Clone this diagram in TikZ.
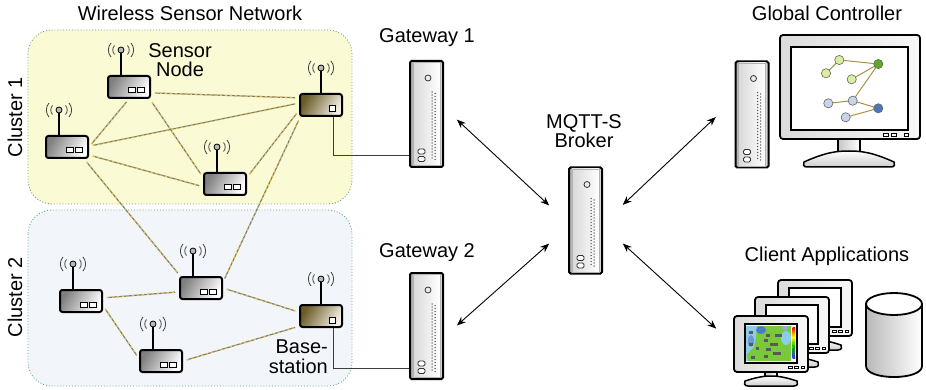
\documentclass[tikz,border=0pt]{standalone}
\usepackage{fontspec}
\setmainfont{Liberation Sans}
\usetikzlibrary{arrows.meta,calc,shapes.geometric}

\definecolor{clusterA}{RGB}{250,250,212}
\definecolor{clusterB}{RGB}{242,246,251}
\definecolor{clusterline}{RGB}{100,165,135}
\definecolor{linkgray}{RGB}{125,125,115}
\definecolor{linkyellow}{RGB}{232,196,72}
\definecolor{bsdark}{RGB}{105,90,40}
\definecolor{bslight}{RGB}{242,238,225}
\definecolor{wirecol}{RGB}{60,60,60}
\definecolor{edgegold}{RGB}{170,145,75}
\definecolor{gnlight}{RGB}{218,238,160}
\definecolor{gndark}{RGB}{95,170,35}
\definecolor{bllight}{RGB}{200,212,236}
\definecolor{bldark}{RGB}{75,120,185}
\definecolor{hmcyan}{RGB}{140,205,232}
\definecolor{hmgreen}{RGB}{122,200,60}
\definecolor{hmblue}{RGB}{74,122,204}

\tikzset{
  lbl/.style={font=\fontsize{20}{18}\selectfont, inner sep=0pt},
  lbltwo/.style={font=\fontsize{20}{19.5}\selectfont, inner sep=0pt},
  cluster/.style={draw=clusterline, dotted, line width=0.9pt, rounded corners=24pt},
  sensorbox/.style={draw=black, line width=2pt, rounded corners=2.5pt,
    minimum width=42pt, minimum height=22pt, inner sep=0pt,
    left color=black!50, right color=white, shading angle=60},
  basebox/.style={sensorbox, left color=bsdark, right color=bslight, shading angle=60},
  led/.style={draw=black, line width=1pt, fill=white},
  stick/.style={draw=black, line width=2pt},
  ball/.style={draw=black, line width=0.8pt, fill=gray!55},
  wave/.style={draw=black!75, line width=0.8pt},
  linkbase/.style={draw=linkgray, line width=1.2pt, shorten <=4pt, shorten >=4pt},
  linkdash/.style={draw=linkyellow, line width=1.2pt, dash pattern=on 2pt off 3pt,
    shorten <=4pt, shorten >=4pt},
  wire/.style={draw=wirecol, line width=1pt},
  towerbox/.style={draw=black, line width=2pt, rounded corners=1.5pt,
    minimum width=33pt, minimum height=106pt, inner sep=0pt,
    left color=gray!60, right color=gray!30},
  towerpanel/.style={draw=gray!60, line width=0.5pt, left color=gray!30, right color=white},
  towerlamp/.style={draw=black!80, line width=0.8pt, fill=gray!15},
  towerslot/.style={draw=black!80, line width=0.8pt, fill=white, rounded corners=1.5pt},
  dotgray/.style={fill=black!65},
  biarrow/.style={draw=black, line width=0.9pt, >={Stealth[length=9pt,width=7pt]}, <->},
  monframe/.style={draw=black, line width=1.8pt, rounded corners=3pt, inner sep=0pt,
    left color=gray!28, right color=gray!6},
  screenbox/.style={draw=black, line width=1.3pt, fill=white, inner sep=0pt},
  neckbox/.style={draw=black, line width=1.5pt, inner sep=0pt, left color=gray!45, right color=white},
  standbase/.style={draw=black, line width=1.5pt, top color=white, bottom color=gray!40},
  btn/.style={draw=black, line width=0.8pt, fill=white},
  gnode/.style={draw=black!60, line width=0.6pt},
  gedge/.style={draw=edgegold, line width=1pt},
}

% antenna with radio waves, drawn above the box named #1, stick offset #2
\newcommand{\wsnantenna}[2]{%
  \begin{scope}[shift={(#1.center)}]
    \draw[stick] (#2,-11) -- (#2,-35);
    \filldraw[ball] (#2,-37) circle[radius=3pt];
    \draw[wave] (#2-10,-44) .. controls (#2-13.5,-40) and (#2-13.5,-34) .. (#2-10,-30);
    \draw[wave] (#2-6.5,-41.5) .. controls (#2-8.8,-39) and (#2-8.8,-35) .. (#2-6.5,-32.5);
    \draw[wave] (#2+10,-44) .. controls (#2+13.5,-40) and (#2+13.5,-34) .. (#2+10,-30);
    \draw[wave] (#2+6.5,-41.5) .. controls (#2+8.8,-39) and (#2+8.8,-35) .. (#2+6.5,-32.5);
  \end{scope}}

% sensor node: grey box, two status lamps
\newcommand{\wsnsensor}[3]{%
  \node[sensorbox] (#1) at (#2,#3) {};
  \wsnantenna{#1}{-8}
  \begin{scope}[shift={(#1.center)}]
    \draw[led] (-1,1) rectangle (6,6);
    \draw[led] (8,1) rectangle (15,6);
  \end{scope}}

% base station: brown box, one lamp
\newcommand{\wsnbase}[3]{%
  \node[basebox] (#1) at (#2,#3) {};
  \wsnantenna{#1}{0}
  \begin{scope}[shift={(#1.center)}]
    \draw[led] (8,1) rectangle (14,7);
  \end{scope}}

% tower server
\newcommand{\wsntower}[3]{%
  \node[towerbox] (#1) at (#2,#3) {};
  \begin{scope}[shift={(#1.center)}]
    \draw[towerpanel] (-13.5,-51.5) rectangle (13.5,51.5);
    \draw[towerlamp] (1.5,-36) circle[radius=3pt];
    \foreach \k in {0,...,22} {
      \fill[dotgray] (5.5,-22+3*\k) circle[radius=0.75pt];
      \fill[dotgray] (8.5,-20.5+3*\k) circle[radius=0.75pt];
    }
    \draw[towerslot] (-8.5,35) rectangle (-1.5,40);
    \draw[towerslot] (-8.5,42.5) rectangle (-1.5,47.5);
  \end{scope}}

% monitor foot: centre x, top y, width, height
\newcommand{\wsnstand}[4]{%
  \draw[standbase] (#1-#3/2+4,#2+#4) -- (#1+#3/2-4,#2+#4)
    .. controls (#1+#3/2,#2+#4) and (#1+#3/2,#2+#4-3) .. (#1+#3/2-1,#2+#4-5)
    .. controls (#1+#3/4,#2+1) and (#1+#3/8,#2) .. (#1,#2)
    .. controls (#1-#3/8,#2) and (#1-#3/4,#2+1) .. (#1-#3/2+1,#2+#4-5)
    .. controls (#1-#3/2,#2+#4-3) and (#1-#3/2,#2+#4) .. (#1-#3/2+4,#2+#4) -- cycle;}

% small client monitor
\newcommand{\wsnclient}[3]{%
  \node[neckbox, minimum width=12pt, minimum height=6pt] (#1neck) at (#2,#3+30.5) {};
  \wsnstand{#2}{#3+32}{54}{10}
  \node[monframe, minimum width=74pt, minimum height=56pt] (#1) at (#2,#3) {};
  \node[screenbox, minimum width=52pt, minimum height=39pt] (#1scr) at (#2,#3-0.5) {};
  \draw[btn] (#2+17,#3+22) rectangle (#2+21,#3+24.5);
  \draw[btn] (#2+23,#3+22) rectangle (#2+27,#3+24.5);
  \draw[btn] (#2+30,#3+22) rectangle (#2+33,#3+24.5);}

\newcommand{\wsnlink}[2]{%
  \draw[linkbase] (#1) -- (#2);
  \draw[linkdash] (#1) -- (#2);}

\begin{document}
\begin{tikzpicture}[x=1pt,y=-1pt]
\useasboundingbox (0,0) rectangle (926,390);
\fill[white] (0,0) rectangle (926,390);

% clusters
\draw[cluster, fill=clusterA] (28,30) rectangle (352,204);
\draw[cluster, fill=clusterB] (28,210) rectangle (352,386);

% sensor field
\wsnsensor{n1}{129}{87}
\wsnsensor{n2}{67}{147}
\wsnsensor{n3}{225}{184}
\wsnbase{bs1}{321}{105}
\wsnsensor{n4}{81}{301}
\wsnsensor{n5}{201}{288}
\wsnsensor{n6}{161}{361}
\wsnbase{bs2}{321}{316}

% radio links
\wsnlink{n1.-15}{bs1.162}
\wsnlink{n2.0}{n1.south}
\wsnlink{n1.-30}{n3.163}
\wsnlink{n2.2}{bs1.175}
\wsnlink{n2.-20}{n3.-173}
\wsnlink{n3.17}{bs1.-166}
\wsnlink{n2.-35}{n5.150}
\wsnlink{bs1.-150}{n5.15}
\wsnlink{n4.8}{n5.-170}
\wsnlink{n4.-12}{n6.174}
\wsnlink{n5.0}{bs2.170}
\wsnlink{n6.0}{bs2.-155}

% servers
\wsntower{gw1}{426.5}{114}
\wsntower{gw2}{426.5}{326}
\wsntower{broker}{585.5}{220.5}
\wsntower{gctower}{752}{114.5}

% wired uplinks
\draw[wire] ($(bs1.south)+(12,0)$) |- ($(gw1.west)+(0,42)$);
\draw[wire] ($(bs2.south)+(12,0)$) |- ($(gw2.west)+(0,42)$);

% global controller monitor
\node[neckbox, minimum width=22pt, minimum height=14pt] (gcneck) at (849,146) {};
\wsnstand{849}{151}{92}{16}
\node[monframe, minimum width=140pt, minimum height=104pt] (gcmon) at (850,87) {};
\node[screenbox, minimum width=117pt, minimum height=83pt] (gcscr) at (849.5,88.5) {};
\draw[btn] (883,133) rectangle (888,136);
\draw[btn] (891,133) rectangle (896,136);
\draw[btn] (904,133) rectangle (908,136);

% topology shown on the controller
\coordinate (ga) at (839.3,60);
\coordinate (gb) at (826,73.3);
\coordinate (gc) at (878.3,64);
\coordinate (gd) at (851.7,79.3);
\coordinate (ge) at (828.3,103.3);
\coordinate (gf) at (852.7,100.7);
\coordinate (gg) at (878.3,108.3);
\coordinate (gh) at (845.7,117.3);
\draw[gedge] (gb) -- (ga) -- (gc) -- (gd);
\draw[gedge] (gc) -- (gf) -- (ge);
\draw[gedge] (gf) -- (gg) -- (gh);
\filldraw[gnode, fill=gnlight] (ga) circle[radius=4.6pt];
\filldraw[gnode, fill=gnlight] (gb) circle[radius=4.6pt];
\filldraw[gnode, fill=gndark] (gc) circle[radius=4.6pt];
\filldraw[gnode, fill=gnlight] (gd) circle[radius=4.6pt];
\filldraw[gnode, fill=bllight] (ge) circle[radius=4.6pt];
\filldraw[gnode, fill=bllight] (gf) circle[radius=4.6pt];
\filldraw[gnode, fill=bldark] (gg) circle[radius=4.6pt];
\filldraw[gnode, fill=bllight] (gh) circle[radius=4.6pt];

% client applications
\wsnclient{cback}{815}{308}
\wsnclient{cmid}{792}{325}
\wsnclient{cfront}{771}{344}

% heat map on the front client
\begin{scope}
  \clip (746,326) rectangle (791,361);
  \fill[hmcyan] (746,326) rectangle (791,361);
  \fill[hmgreen] (757,326) -- (791,326) -- (791,361) -- (748,361) -- (747,354)
    -- (754,347) -- (756,338) -- cycle;
  \fill[hmcyan] (786,338) ellipse[x radius=5pt, y radius=7pt];
  \fill[hmblue] (761,330) ellipse[x radius=5pt, y radius=4pt];
  \fill[hmblue!80] (751,341) ellipse[x radius=3pt, y radius=6pt];
  \fill[hmblue!60] (785,328) ellipse[x radius=3pt, y radius=2.5pt];
  \fill[black!65] (749,331) rectangle (753,333.5);
  \fill[black!65] (766,334) rectangle (770,336.5);
  \fill[black!65] (775,334) rectangle (782,336.5);
  \fill[black!65] (749,343) rectangle (753,345.5);
  \fill[black!65] (764,339) rectangle (768,341.5);
  \fill[black!65] (770,343) rectangle (778,345.5);
  \fill[black!65] (756,347) rectangle (759,350);
  \fill[black!65] (766,348) rectangle (771,350.5);
  \fill[black!65] (773,352) rectangle (781,354.5);
  \fill[black!65] (764,355) rectangle (768,357.5);
  \fill[black!65] (751,356) rectangle (755,358.5);
\end{scope}
\shade[top color=red, bottom color=yellow] (792.5,327) rectangle (795,337);
\shade[top color=yellow, bottom color=green!70!black] (792.5,337) rectangle (795,347);
\shade[top color=green!70!black, bottom color=blue!80] (792.5,347) rectangle (795,358);

% database
\draw[line width=1.8pt, left color=gray!55, right color=white]
  (866,304) -- (866,366) .. controls (866,380.7) and (922,380.7) .. (922,366)
  -- (922,304) -- cycle;
\node[draw=black, line width=1.8pt, ellipse, minimum width=56pt, minimum height=22pt,
  inner sep=0pt, fill=white] (db) at (894,304) {};

% message flows
\draw[biarrow, shorten <=17.6pt, shorten >=25.7pt] (gw1.20) -- (broker.188);
\draw[biarrow, shorten <=17.2pt, shorten >=25.2pt] (gw2.-32) -- (broker.200);
\draw[biarrow, shorten <=27.1pt, shorten >=25.8pt] (broker.-10) -- (gctower.139);
\draw[biarrow, shorten <=26.8pt, shorten >=22.8pt] (broker.-16) -- (cfront.180);

% labels (two-line labels are anchored on their last baseline)
\node[lbl, anchor=base] (wsntitle) at (190,21) {Wireless Sensor Network};
\node[lbltwo, anchor=base, align=center] (snlab) at (180,77) {Sensor\\Node};
\node[lbl, anchor=base, rotate=90] (cl1) at (22,117) {Cluster 1};
\node[lbl, anchor=base, rotate=90] (cl2) at (22,297) {Cluster 2};
\node[lbl, anchor=base] (gw1lab) at (427,43) {Gateway 1};
\node[lbl, anchor=base] (gw2lab) at (427,257) {Gateway 2};
\node[lbl, anchor=base, align=center] (brlab) at (584,148) {MQTT-S\\Broker};
\node[lbl, anchor=base] (gclab) at (827,21) {Global Controller};
\node[lbl, anchor=base] (calab) at (827,261) {Client Applications};
\node[lbltwo, anchor=base east, align=right] (bslab) at (328,373) {Base-\\station};
\end{tikzpicture}
\end{document}
